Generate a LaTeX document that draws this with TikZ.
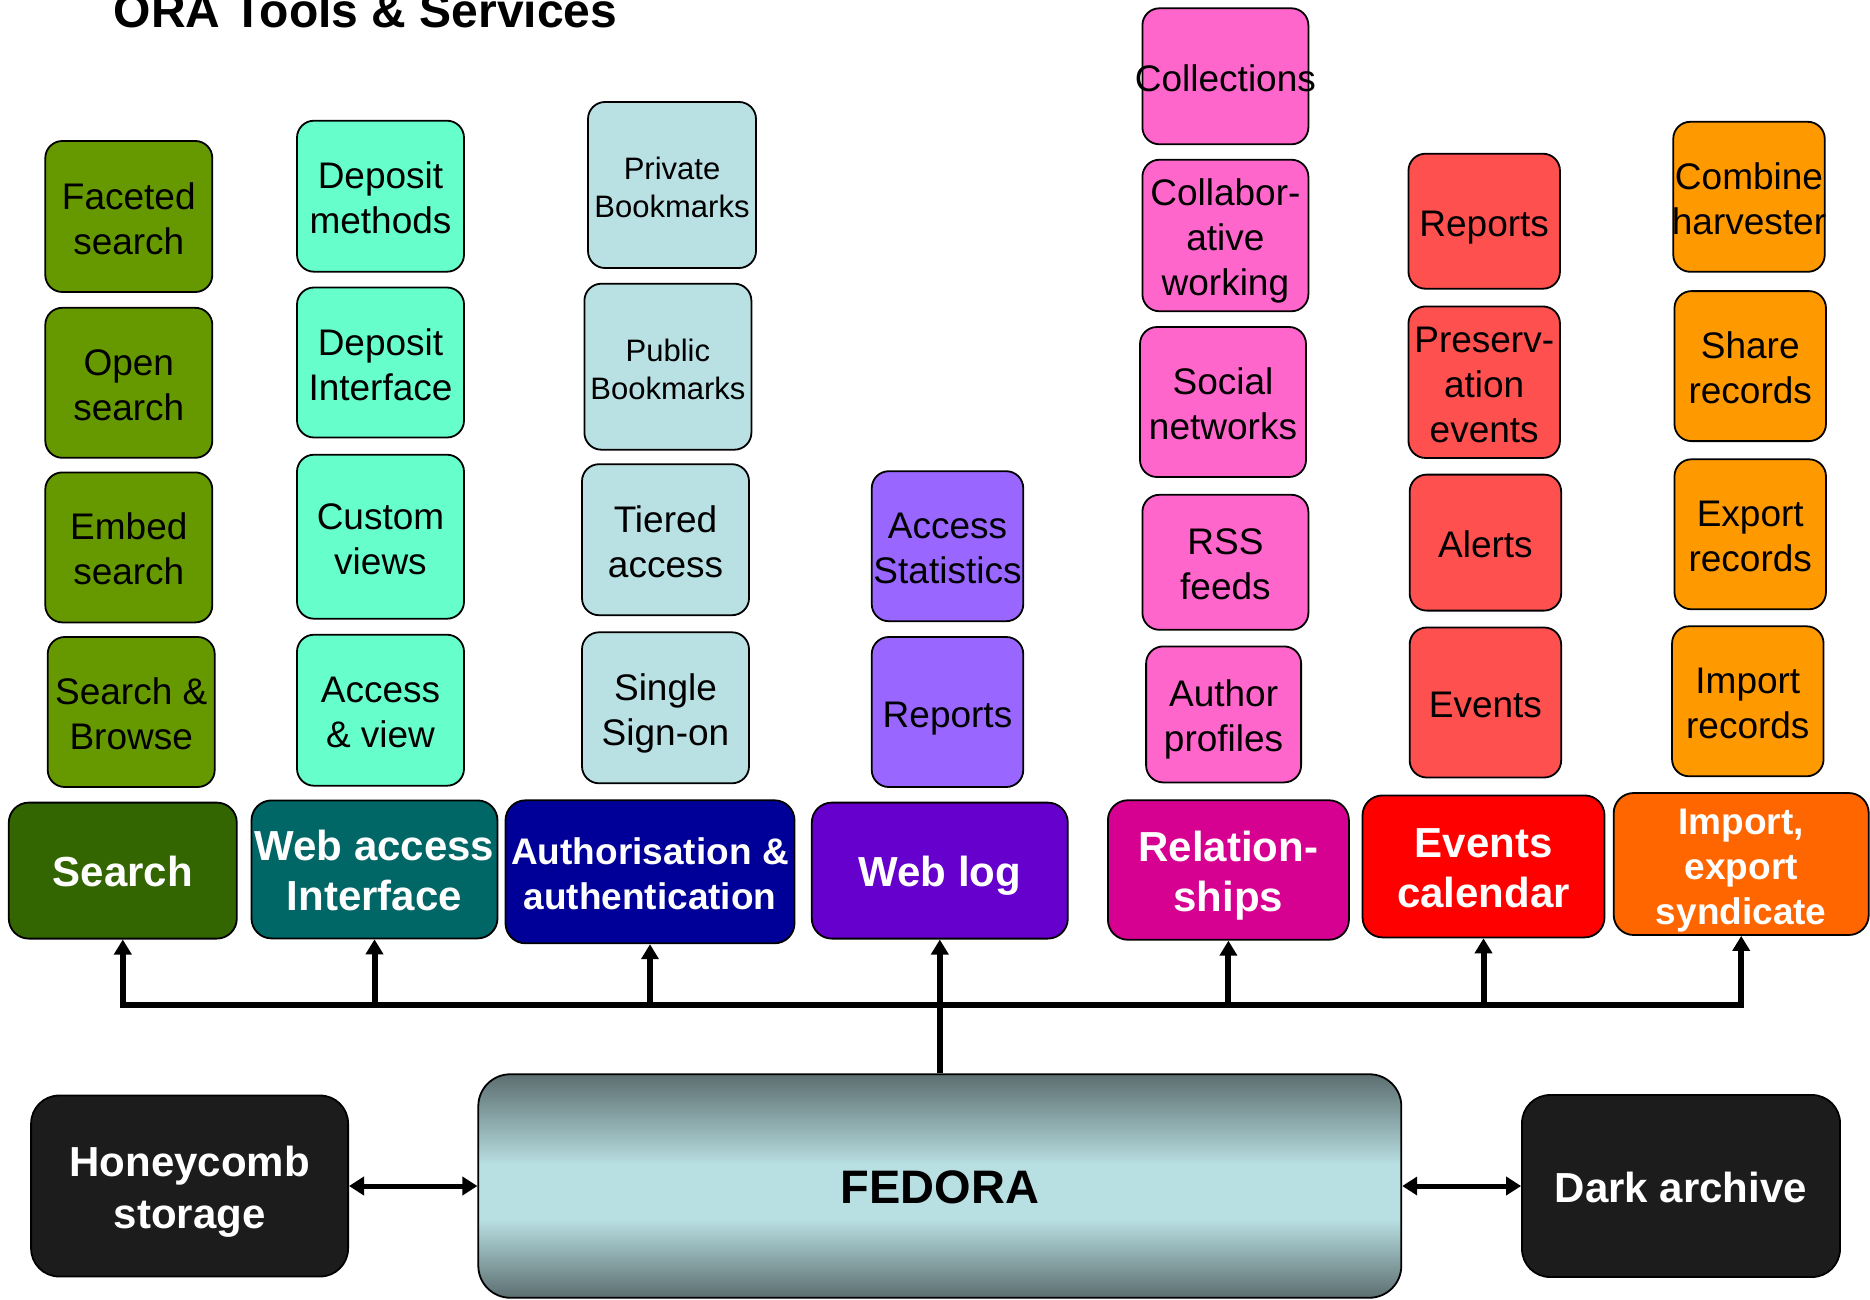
\documentclass[tikz,border=0pt]{standalone}
\usepackage{fontspec}
\setmainfont{Liberation Sans}
\usetikzlibrary{arrows.meta,calc}
\definecolor{olv}{HTML}{669900}
\definecolor{dgreen}{HTML}{336600}
\definecolor{aqua}{HTML}{66FFCC}
\definecolor{tealc}{HTML}{006666}
\definecolor{lblue}{HTML}{B9E0E3}
\definecolor{navyc}{HTML}{000099}
\definecolor{lpurp}{HTML}{9966FF}
\definecolor{dpurp}{HTML}{6600CC}
\definecolor{lpink}{HTML}{FF66CC}
\definecolor{dpink}{HTML}{D60091}
\definecolor{lred}{HTML}{FF5050}
\definecolor{dred}{HTML}{FF0000}
\definecolor{lorange}{HTML}{FF9900}
\definecolor{dorange}{HTML}{FF6600}
\definecolor{nblack}{HTML}{1C1C1C}
\definecolor{fedD}{HTML}{5C6E70}
\definecolor{fedL}{HTML}{B8DFE2}
\newcommand\ml[1]{\hbox to 0pt{\hss\raisebox{-6pt}[\height][\depth]{\begin{tabular}{@{}c@{}}#1\end{tabular}}\hss}}
\tikzset{
  sz/.style 2 args={minimum width=#1pt, minimum height=#2pt},
  bx/.style={draw=black, line width=1.8pt, rounded corners=17pt, inner sep=0pt},
  reg/.style={bx, font=\fontsize{37}{45}\selectfont, text=black},
  bm/.style={bx, font=\fontsize{31}{38}\selectfont, text=black},
  cat/.style={bx, rounded corners=20pt, font=\bfseries\fontsize{42}{50}\selectfont, text=white},
  cats/.style={bx, rounded corners=20pt, font=\bfseries\fontsize{37}{45}\selectfont, text=white},
  store/.style={bx, rounded corners=28pt, fill=nblack, font=\bfseries\fontsize{42}{52}\selectfont, text=white},
  fedfill/.style={path picture={
    \path (path picture bounding box.north west) coordinate (fnw)
          (path picture bounding box.south east) coordinate (fse);
    \shade[sharp corners, top color=fedD, bottom color=fedL] (fnw) rectangle ($(fse)!0.595!(fse|-fnw)$);
    \fill[sharp corners, fedL] ($(fnw)!0.40!(fnw|-fse)$) rectangle ($(fse)!0.345!(fse|-fnw)$);
    \shade[sharp corners, top color=fedL, bottom color=fedD] ($(fnw)!0.65!(fnw|-fse)$) rectangle (fse);
  }},
  conn/.style={line width=6pt, -{Triangle[length=15pt,width=17pt]}},
  dbl/.style={line width=5pt, {Triangle[length=15pt,width=18pt]}-{Triangle[length=15pt,width=18pt]}}
}
\begin{document}
\begin{tikzpicture}[x=1pt,y=-1pt]
\fill[white] (0,0) rectangle (1870,1300);
\useasboundingbox (0,0) rectangle (1870,1300);

\node[font=\bfseries\fontsize{48}{56}\selectfont, anchor=base] (title) at (365.6,28) {ORA Tools \& Services};

% column 1
\node[reg, fill=olv, sz={167}{151}] (faceted) at (128.8,216.5) {\ml{Faceted\\search}};
\node[reg, fill=olv, sz={167}{150}] (opens) at (128.8,382.8) {\ml{Open\\search}};
\node[reg, fill=olv, sz={167}{150}] (embed) at (128.8,547.4) {\ml{Embed\\search}};
\node[reg, fill=olv, sz={167}{150}] (sbrowse) at (131.2,712) {\ml{Search \&\\Browse}};
\node[cat, fill=dgreen, sz={228}{136}] (search) at (122.8,870.6) {\ml{Search}};

% column 2
\node[reg, fill=aqua, sz={167}{151}] (depm) at (380.5,196.2) {\ml{Deposit\\methods}};
\node[reg, fill=aqua, sz={167}{150}] (depi) at (380.5,362.5) {\ml{Deposit\\Interface}};
\node[reg, fill=aqua, sz={167}{164}] (custom) at (380.5,536.7) {\ml{Custom\\views}};
\node[reg, fill=aqua, sz={167}{151}] (accv) at (380.5,710.2) {\ml{Access\\\& view}};
\node[cat, fill=tealc, sz={246}{138}] (webacc) at (374.5,869.4) {\ml{Web access\\Interface}};

% column 3
\node[bm, fill=lblue, sz={168}{166}] (privb) at (672,185) {\ml{Private\\Bookmarks}};
\node[bm, fill=lblue, sz={167}{166}] (pubb) at (667.9,366.7) {\ml{Public\\Bookmarks}};
\node[reg, fill=lblue, sz={167}{151}] (tiered) at (665.5,539.7) {\ml{Tiered\\access}};
\node[reg, fill=lblue, sz={167}{151}] (sso) at (665.5,707.8) {\ml{Single\\Sign-on}};
\node[cats, fill=navyc, sz={289}{143}] (auth) at (650,871.8) {\ml{Authorisation \&\\authentication}};

% column 4
\node[reg, fill=lpurp, sz={151.5}{150}] (accst) at (947.5,546.2) {\ml{Access\\Statistics}};
\node[reg, fill=lpurp, sz={151.5}{150}] (wlrep) at (947.5,712) {\ml{Reports}};
\node[cat, fill=dpurp, sz={256}{136}] (weblog) at (939.8,870.6) {\ml{Web log}};

% column 5
\node[reg, fill=lpink, sz={166}{136}] (coll) at (1225.4,76.3) {\ml{Collections}};
\node[reg, fill=lpink, sz={166}{151.5}] (collab) at (1225.4,235.5) {\ml{Collabor-\\ative\\working}};
\node[reg, fill=lpink, sz={166}{150}] (social) at (1223,402) {\ml{Social\\networks}};
\node[reg, fill=lpink, sz={166}{135}] (rss) at (1225.4,562.3) {\ml{RSS\\feeds}};
\node[reg, fill=lpink, sz={155}{136}] (author) at (1223.6,714.4) {\ml{Author\\profiles}};
\node[cat, fill=dpink, sz={241}{139.5}] (rel) at (1228.4,870) {\ml{Relation-\\ships}};

% column 6
\node[reg, fill=lred, sz={151.5}{135}] (erep) at (1484.2,221.2) {\ml{Reports}};
\node[reg, fill=lred, sz={151.5}{151.5}] (pres) at (1484.2,382.2) {\ml{Preserv-\\ation\\events}};
\node[reg, fill=lred, sz={151.5}{136}] (alerts) at (1485.4,542.6) {\ml{Alerts}};
\node[reg, fill=lred, sz={151.5}{150}] (events) at (1485.4,702.5) {\ml{Events}};
\node[cat, fill=dred, sz={242}{142}] (evcal) at (1483.5,866.4) {\ml{Events\\calendar}};

% column 7
\node[reg, fill=lorange, sz={151.5}{150}] (combine) at (1749,196.8) {\ml{Combine\\harvester}};
\node[reg, fill=lorange, sz={151.5}{150}] (share) at (1750.2,366.1) {\ml{Share\\records}};
\node[reg, fill=lorange, sz={151.5}{150}] (export) at (1750.2,534.3) {\ml{Export\\records}};
\node[reg, fill=lorange, sz={151.5}{150}] (importr) at (1747.8,701.3) {\ml{Import\\records}};
\node[cats, fill=dorange, sz={255}{142}] (impcat) at (1741.2,864) {\ml{Import,\\export\\syndicate}};

% bottom
\node[store, sz={317}{181}] (honey) at (189.6,1186) {\ml{Honeycomb\\storage}};
\node[bx, rounded corners=32pt, fedfill, sz={923}{223.5}, font=\bfseries\fontsize{47}{56}\selectfont, text=black] (fedora) at (939.8,1186) {\ml{FEDORA}};
\node[store, sz={318}{182}] (dark) at (1681,1186) {\ml{Dark archive}};

% connectors
\coordinate (bus) at (939.8,1005);
\draw[conn] (fedora.north) -- (weblog.south);
\foreach \n in {search,webacc,auth,rel,evcal,impcat}
  \draw[conn] (bus) -| (\n.south);
\draw[dbl] (honey.east) -- (fedora.west);
\draw[dbl] (fedora.east) -- (dark.west);
\end{tikzpicture}
\end{document}
